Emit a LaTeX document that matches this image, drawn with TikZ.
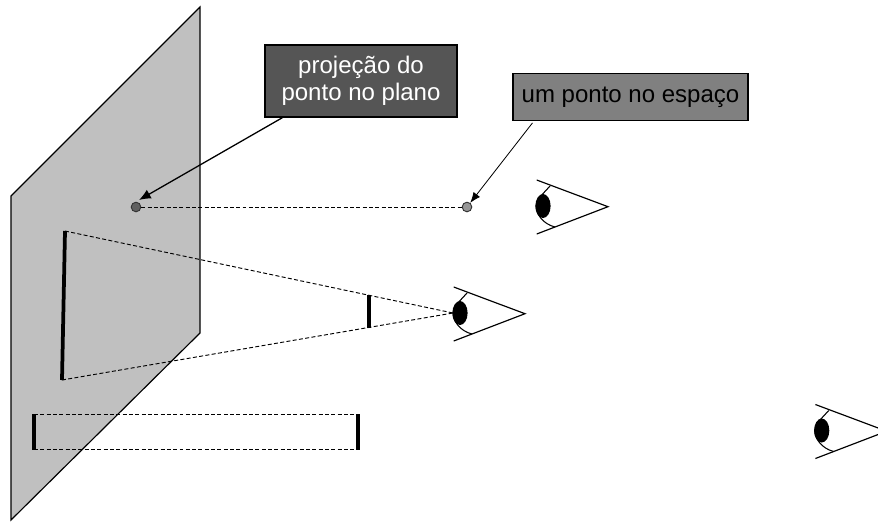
\documentclass[tikz,border=0pt]{standalone}
\usepackage{fontspec}
\setmainfont{Liberation Sans}
\usepackage{xcolor}
\usetikzlibrary{arrows.meta, positioning}
\definecolor{planecolor}{RGB}{192, 192, 192}
\definecolor{darkboxcolor}{RGB}{85, 85, 85}
\definecolor{greyboxcolor}{RGB}{128, 128, 128}
\definecolor{darkdotcolor}{RGB}{96, 96, 96}
\definecolor{greydotcolor}{RGB}{150, 150, 150}

\begin{document}
\begin{tikzpicture}[
    x=0.03cm, y=-0.03cm,
    labelbox/.style={draw=black, line width=1pt, font=\fontsize{20.5}{23.5}\selectfont, align=center, inner sep=0pt},
    sightline/.style={dash pattern=on 3.4pt off 2pt, line width=0.8pt},
    thickbar/.style={line width=3.2pt},
    pointdot/.style={draw=black!80, circle, line width=0.8pt, inner sep=0pt, minimum size=8.2pt},
    eyeview/.pic={
        \fill[black] (0,0) ellipse [x radius=7.6, y radius=12];
        \draw[line width=1pt] (-6.3,-26) -- (65,0.7) -- (-6.3,28);
        \draw[line width=0.9pt] (7,-20) .. controls (-2,-10) and (-7,-6) .. (-7,0) .. controls (-7,8) and (0,18) .. (12,21);
    },
]
    \clip (0,0) rectangle (878,521);

    % Plane
    \draw[fill=planecolor, line width=1pt] (200,7) -- (11,196) -- (11,520) -- (200,333) -- cycle;

    % Labels
    \node[labelbox, fill=darkboxcolor, text=white, minimum width=163.9pt, minimum height=61.5pt] (projbox) at (361,81) {projeção do\\ponto no plano};
    \node[labelbox, fill=greyboxcolor, minimum width=200.6pt, minimum height=40.1pt] (spacebox) at (630.5,97) {um ponto no espaço};

    % Points
    \node[pointdot, fill=darkdotcolor] (projpt) at (136,207) {};
    \node[pointdot, fill=greydotcolor] (spacept) at (467,207) {};
    \draw[sightline] (projpt) -- (spacept);
    \draw[-{Latex[length=10pt,width=8.5pt]}, line width=1.1pt, shorten >=3pt] (projbox.205) -- (projpt.north);
    \draw[-{Latex[length=9pt,width=7pt]}, line width=0.7pt, shorten <=2pt] (spacebox.194.5) -- (spacept);

    % Eyes
    \pic at (543,206) {eyeview};
    \pic at (460,313) {eyeview};
    \pic at (821.7,430.5) {eyeview};

    % Projected segment
    \coordinate (conetop) at (65,231);
    \coordinate (conebot) at (62,380);
    \coordinate (midtop) at (369,295);
    \coordinate (midbot) at (369,328);
    \coordinate (coneeye) at (453,313);
    \draw[sightline] (conetop) -- (coneeye);
    \draw[sightline] (conebot) -- (coneeye);
    \draw[thickbar] (conetop) -- (conebot);
    \draw[thickbar] (midtop) -- (midbot);

    % Parallel segment
    \coordinate (lefttop) at (34,414);
    \coordinate (leftbot) at (34,449.5);
    \coordinate (righttop) at (358,414);
    \coordinate (rightbot) at (358,449.5);
    \draw[sightline] (lefttop) -- (righttop);
    \draw[sightline] (leftbot) -- (rightbot);
    \draw[thickbar] (lefttop) -- (leftbot);
    \draw[thickbar] (righttop) -- (rightbot);
\end{tikzpicture}
\end{document}
